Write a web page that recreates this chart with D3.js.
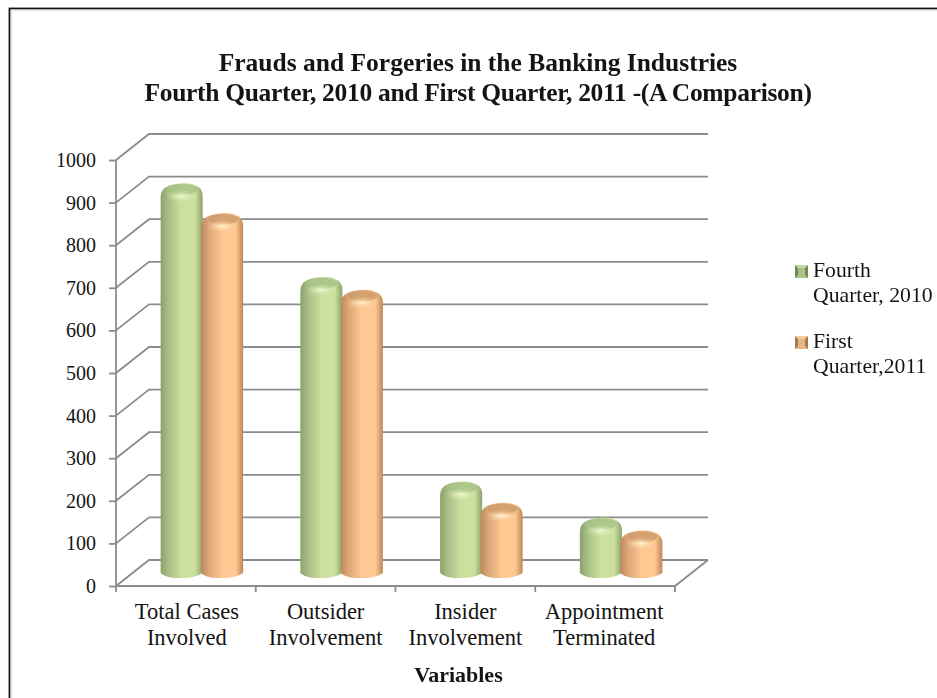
<!DOCTYPE html>
<html><head><meta charset="utf-8">
<script src="https://cdnjs.cloudflare.com/ajax/libs/d3/7.8.5/d3.min.js"></script>
<style>html,body{margin:0;padding:0;background:#fff;overflow:hidden}svg{display:block;filter:blur(0.35px)}text{font-family:"Liberation Serif",serif;fill:#141414}</style>
</head><body><svg id="c" width="937" height="698"></svg>
<script>
const categories=[["Total Cases","Involved"],["Outsider","Involvement"],["Insider","Involvement"],["Appointment","Terminated"]];
const fourthQuarter2010=[910,690,210,125];
const firstQuarter2011=[840,660,160,95];
const seriesNames=[["Fourth","Quarter, 2010"],["First","Quarter,2011"]];
const yTicks=d3.range(0,1001,100);
const titleLines=["Frauds and Forgeries in the Banking Industries","Fourth Quarter, 2010 and First Quarter, 2011 -(A Comparison)"];
const xTitle="Variables";

const svg=d3.select("#c");
const defs=svg.append("defs");
const pal=[{id:"g",e:"#8aa268",m:"#cbe09e",d:"#a5bb84",cap:"#a6c086",hi:"#f0f9d2",a:"#a9c486",b:"#6f8a52",c:"#c3d6a0"},
           {id:"o",e:"#bd8859",m:"#fdc892",d:"#d8a476",cap:"#cc9869",hi:"#fff2cf",a:"#e9b584",b:"#a8784e",c:"#f2cba6"}];
pal.forEach(p=>{
  const g=defs.append("linearGradient").attr("id","b"+p.id);
  [[0,p.e],[.16,p.d],[.5,p.m],[.82,p.m],[1,p.e]].forEach(([o,c])=>g.append("stop").attr("offset",o).attr("stop-color",c));
  const r=defs.append("radialGradient").attr("id","h"+p.id);
  r.append("stop").attr("offset",0).attr("stop-color",p.hi);
  r.append("stop").attr("offset",1).attr("stop-color",p.m).attr("stop-opacity",0);
});
defs.append("filter").attr("id","soft").attr("x","-5%").attr("y","-5%").attr("width","110%").attr("height","110%")
  .append("feGaussianBlur").attr("stdDeviation",0.5);

svg.append("rect").attr("x",9.5).attr("y",8.5).attr("width",940).attr("height",700)
  .attr("fill","#fff").attr("stroke","#111").attr("stroke-width",1.8);
svg.append("rect").attr("x",11).attr("y",10).attr("width",940).attr("height",700)
  .attr("fill","none").attr("stroke","#c4c4c4").attr("stroke-width",1);

const x0=116,x1=675,dx=33,dy=26;
const y=d3.scaleLinear().domain([0,1000]).range([586,160]);
const x=d3.scaleBand().domain(d3.range(categories.length)).range([x0,x1]);
const inner=d3.scaleBand().domain([0,1]).range([0,81]);
const grey="#8c8c8c";

const grid=svg.append("g").attr("fill","none").attr("stroke",grey).attr("stroke-width",1.8);
yTicks.forEach(t=>{
  grid.append("path").attr("d",d3.line()([[x0,y(t)],[x0+dx,y(t)-dy],[x1+dx,y(t)-dy]]));
});
grid.append("path").attr("d",d3.line()([[x0,y(0)],[x1,y(0)],[x1+dx,y(0)-dy]]));
grid.append("path").attr("d",d3.line()([[x0,y(0)],[x0,y(1000)]]));

const ya=svg.append("g").attr("transform",`translate(${x0},0)`)
  .call(d3.axisLeft(y).tickValues(yTicks).tickSize(7).tickPadding(13).tickFormat(d3.format("d")));
ya.select(".domain").remove();
ya.selectAll("line").attr("stroke",grey).attr("stroke-width",1.8);
ya.selectAll("text").attr("font-size",20).attr("font-family",'"Liberation Serif",serif').attr("fill","#141414");

const xa=svg.append("g").attr("transform",`translate(0,${y(0)})`);
d3.range(categories.length+1).forEach(i=>{
  const px=i<categories.length?x(i):x1;
  xa.append("line").attr("x1",px).attr("x2",px).attr("y1",0).attr("y2",6).attr("stroke",grey).attr("stroke-width",1.8);
});
categories.forEach((c,i)=>{
  const t=xa.append("text").attr("text-anchor","middle").attr("font-size",22.5);
  c.forEach((s,j)=>t.append("tspan").attr("x",x(i)+x.bandwidth()/2+(i==0?1:i==3?-1:0)).attr("y",33+j*26).text(s));
});

const rows=[fourthQuarter2010,firstQuarter2011];
const barW=42, lift=15, baseLift=8;
const marks=svg.append("g").attr("filter","url(#soft)");
function drawBar(cx,v,p){
  const l=cx-barW/2,r=cx+barW/2,top=y(v)-lift,bot=y(0)-baseLift;
  const rx=barW/2, cap=11;
  const g=marks.append("g");
  g.append("path").attr("fill",`url(#b${p.id})`)
   .attr("d",`M${l},${bot-5} L${l},${top+cap+3} C${l},${top+4} ${l+8},${top+1} ${cx},${top} C${r-8},${top-1} ${r},${top+4} ${r},${top+cap+1} L${r},${bot-5} C${r-6},${bot-1} ${cx+8},${bot} ${cx},${bot} C${cx-8},${bot} ${l+6},${bot} ${l},${bot-5} Z`);
  g.append("ellipse").attr("cx",cx+1).attr("cy",top+6).attr("rx",rx-6).attr("ry",5.5).attr("fill",p.cap).attr("opacity",.8);
  g.append("ellipse").attr("cx",cx).attr("cy",top+13).attr("rx",rx-5).attr("ry",6.5).attr("fill",`url(#h${p.id})`);
}
categories.forEach((c,i)=>{
  rows.forEach((row,k)=>{
    const base=x(i)+x.bandwidth()/2+16-inner.bandwidth();
    drawBar(base+inner(k)+inner.bandwidth()/2,row[i],pal[k]);
  });
});

titleLines.forEach((s,i)=>svg.append("text").attr("x",478).attr("y",71+i*30).attr("text-anchor","middle")
  .attr("font-size",25.5).attr("font-weight","bold").attr("letter-spacing",i?-0.3:0).text(s));
svg.append("text").attr("x",458.5).attr("y",682).attr("text-anchor","middle").attr("font-size",22).attr("font-weight","bold").text(xTitle);

const legendY=[271,342];
seriesNames.forEach((n,i)=>{
  const g=svg.append("g").attr("transform",`translate(795,${legendY[i]})`);
  const p=pal[i],s=13,t=-6,m=s/2,q=3;
  g.append("rect").attr("x",0).attr("y",t).attr("width",s).attr("height",s).attr("fill",p.a);
  g.append("polygon").attr("points",`0,${t} ${q},${t+q} ${q},${t+s-q} 0,${t+s}`).attr("fill",p.b);
  g.append("polygon").attr("points",`${s},${t} ${s-q},${t+q} ${s-q},${t+s-q} ${s},${t+s}`).attr("fill",p.b);
  g.append("polygon").attr("points",`0,${t} ${s},${t} ${s-q},${t+q} ${q},${t+q}`).attr("fill",p.c);
  const tx=g.append("text").attr("font-size",21.7);
  n.forEach((str,j)=>tx.append("tspan").attr("x",18).attr("y",6+j*25).text(str));
});
</script></body></html>
